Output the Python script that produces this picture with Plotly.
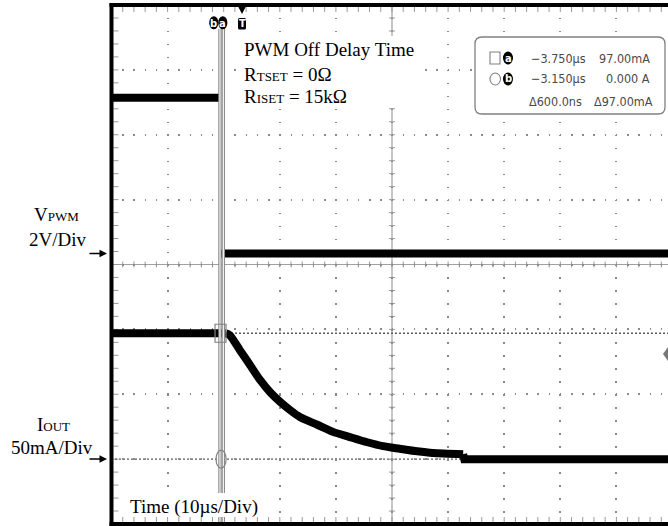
import plotly.graph_objects as go

# ---------------- data ----------------
# PWM input voltage (V) vs time (us), 0 us = trigger
pwm_time = [-23.2, -3.8, -3.8, 76.2]
pwm_volts = [4.8, 4.8, 0.0, 0.0]

# LED output current (mA) vs time (us)
iout_time = [-23.2, -2.7, -2.0, -0.2, 1.6, 3.4, 5.2, 7.0, 8.7, 10.5, 13.6,
             16.4, 19.4, 22.5, 25.3, 28.3, 31.4, 34.2, 39.6, 39.8, 76.2]
iout_mA = [97.0, 97.0, 95.5, 84.0, 72.5, 61.0, 51.5, 44.0, 38.0, 32.5, 26.5,
           21.0, 17.0, 13.0, 10.0, 8.0, 6.0, 4.7, 3.8, 0.0, 0.0]

# cursor readout
cursor_a_us = -3.75
cursor_b_us = -3.15
cursor_a_mA = 97.0
cursor_b_mA = 0.0
readout_rows = [["−3.750µs", "97.00mA"], ["−3.150µs", "0.000 A"], ["Δ600.0ns", "Δ97.00mA"]]

# ---------------- geometry ----------------
W, H = 668, 526
L, R, T, B = 111, 0, 5, 2
TRIG_PX = 241.0
PX_PER_US = 5.61
DIV_X = 56.1
DIV_Y = (H - T - B) / 8.0
X_CENTER_US = (392 - TRIG_PX) / PX_PER_US
T_LEFT = (L - TRIG_PX) / PX_PER_US
T_RIGHT = (W - R - TRIG_PX) / PX_PER_US
V_ZERO_PX = 253.5
v_lo = -((H - B) - V_ZERO_PX) / DIV_Y * 2.0
v_hi = v_lo + 16.0


def px(x):
    return (x - L) / (W - L - R)


def py(y):
    return ((H - B) - y) / (H - T - B)


def seg(x0, y0, x1, y1):
    return f"M{px(x0):.5f},{py(y0):.5f}L{px(x1):.5f},{py(y1):.5f}"


SERIF = "Liberation Serif, Times New Roman, serif"
NARROW = "Liberation Sans Narrow, DejaVu Sans Condensed, Arial Narrow, sans-serif"
GRID = "#8a8a8a"
TICK = "#9a9a9a"

fig = go.Figure()

fig.add_trace(go.Scatter(x=pwm_time[:2], y=pwm_volts[:2], yaxis="y2", mode="lines",
                         line=dict(color="black", width=8), hoverinfo="skip"))
fig.add_trace(go.Scatter(x=pwm_time[2:], y=pwm_volts[2:], yaxis="y2", mode="lines",
                         line=dict(color="black", width=8), hoverinfo="skip"))
# flat start and final step drawn straight, the decay drawn smooth
s0 = 2
s1 = iout_time.index(39.6) + 1
fig.add_trace(go.Scatter(x=iout_time[:s0], y=iout_mA[:s0], mode="lines",
                         line=dict(color="black", width=8), hoverinfo="skip"))
fig.add_trace(go.Scatter(x=iout_time[s0 - 1:s1], y=iout_mA[s0 - 1:s1], mode="lines",
                         line=dict(color="black", width=8, shape="spline", smoothing=0.7),
                         hoverinfo="skip"))
fig.add_trace(go.Scatter(x=iout_time[s1 - 1:], y=iout_mA[s1 - 1:], mode="lines",
                         line=dict(color="black", width=8), hoverinfo="skip"))

shapes = []
# centre graticule lines
shapes.append(dict(type="line", xref="paper", yref="paper", x0=0, x1=1, y0=py(264.5), y1=py(264.5),
                   line=dict(color="#a0a0a0", width=1.2), layer="between"))
shapes.append(dict(type="line", xref="x", yref="paper", x0=X_CENTER_US, x1=X_CENTER_US, y0=0, y1=1,
                   line=dict(color="#a0a0a0", width=1.2), layer="between"))
# ticks: borders and centre lines
p_border = []
p_center = []
for k in range(0, 51):
    x = L + 0.5 + k * DIV_X / 5
    p_border.append(seg(x, 7, x, 12))
    p_border.append(seg(x, 522, x, 517))
    p_center.append(seg(x, 261.5, x, 267.5))
for k in range(0, 41):
    y = T + k * DIV_Y / 5
    p_border.append(seg(113.5, y, 118.5, y))
    p_center.append(seg(389, y, 395, y))
shapes.append(dict(type="path", xref="paper", yref="paper", path="".join(p_border),
                   line=dict(color=TICK, width=1), layer="between"))
shapes.append(dict(type="path", xref="paper", yref="paper", path="".join(p_center),
                   line=dict(color=TICK, width=1), layer="between"))
# horizontal (level) cursor lines
for lvl in (cursor_a_mA, cursor_b_mA):
    shapes.append(dict(type="line", xref="paper", yref="y", x0=0, x1=1, y0=lvl, y1=lvl,
                       line=dict(color="#5a5a5a", width=1.4, dash="2px,2px"), layer="between"))
# vertical cursor lines (double lines)
for tc in (cursor_a_us, cursor_b_us):
    shapes.append(dict(type="line", xref="x", yref="paper", x0=tc, x1=tc, y0=0, y1=py(29),
                       line=dict(color="#8c8c8c", width=3.4), layer="above"))
    shapes.append(dict(type="line", xref="x", yref="paper", x0=tc, x1=tc, y0=0, y1=py(29),
                       line=dict(color="white", width=1.1), layer="above"))
# cursor markers on the waveform
mpp = 50.0 / DIV_Y  # mA per px
shapes.append(dict(type="rect", xref="x", yref="y",
                   x0=cursor_a_us + 0.1 - 5.5 / PX_PER_US, x1=cursor_a_us + 0.1 + 5.5 / PX_PER_US,
                   y0=cursor_a_mA - 9 * mpp, y1=cursor_a_mA + 9 * mpp,
                   line=dict(color="#808080", width=1.2), layer="above"))
shapes.append(dict(type="circle", xref="x", yref="y",
                   x0=cursor_a_us + 0.2 - 5 / PX_PER_US, x1=cursor_a_us + 0.2 + 5 / PX_PER_US,
                   y0=cursor_b_mA - 9 * mpp, y1=cursor_b_mA + 9 * mpp,
                   line=dict(color="#808080", width=1.2), layer="above"))


def rrect(x0, y0, x1, y1, r):
    P = lambda x, y: f"{px(x):.5f},{py(y):.5f}"
    return (f"M{P(x0 + r, y0)}L{P(x1 - r, y0)}Q{P(x1, y0)} {P(x1, y0 + r)}"
            f"L{P(x1, y1 - r)}Q{P(x1, y1)} {P(x1 - r, y1)}L{P(x0 + r, y1)}"
            f"Q{P(x0, y1)} {P(x0, y1 - r)}L{P(x0, y0 + r)}Q{P(x0, y0)} {P(x0 + r, y0)}Z")


# white label backgrounds
shapes.append(dict(type="rect", xref="paper", yref="paper", x0=px(238), x1=px(421), y0=py(108), y1=py(36),
                   fillcolor="white", line=dict(width=0), layer="above"))
shapes.append(dict(type="rect", xref="paper", yref="paper", x0=px(124), x1=px(264), y0=py(517), y1=py(493),
                   fillcolor="white", line=dict(width=0), layer="above"))
# readout box
shapes.append(dict(type="path", xref="paper", yref="paper", path=rrect(475, 37, 665, 114, 7),
                   fillcolor="white", line=dict(color="#808080", width=1.3), layer="above"))
shapes.append(dict(type="rect", xref="paper", yref="paper", x0=px(490), x1=px(500), y0=py(64), y1=py(52),
                   line=dict(color="#808080", width=1.1), layer="above"))
shapes.append(dict(type="circle", xref="paper", yref="paper", x0=px(490), x1=px(500.5), y0=py(85), y1=py(73),
                   line=dict(color="#808080", width=1.1), layer="above"))
row_y = [58, 79, 101]
for cy in row_y[:2]:
    shapes.append(dict(type="circle", xref="paper", yref="paper", x0=px(503), x1=px(513),
                       y0=py(cy + 6.5), y1=py(cy - 6.5), fillcolor="black", line=dict(width=0), layer="above"))
# top markers b, a, T
for cx in (213.8, 222.8):
    shapes.append(dict(type="circle", xref="paper", yref="paper", x0=px(cx - 4.6), x1=px(cx + 4.6),
                       y0=py(29.3), y1=py(16.2), fillcolor="black", line=dict(width=0), layer="above"))
shapes.append(dict(type="path", xref="paper", yref="paper", path=rrect(238, 18, 246, 29.5, 1.5),
                   fillcolor="black", line=dict(width=0), layer="above"))
shapes.append(dict(type="path", xref="paper", yref="paper",
                   path=f"M{px(236.8)},{py(4)}L{px(247.2)},{py(4)}L{px(242)},{py(14)}Z",
                   fillcolor="black", line=dict(width=0), layer="above"))
# trigger-level marker at right edge
shapes.append(dict(type="path", xref="paper", yref="paper",
                   path=f"M{px(668)},{py(347)}L{px(673)},{py(354)}L{px(668)},{py(361)}L{px(663)},{py(354)}Z",
                   fillcolor="#777777", line=dict(width=0), layer="above"))
# screen border
shapes.append(dict(type="line", xref="paper", yref="paper", x0=px(111.5), x1=px(111.5), y0=py(526), y1=py(3),
                   line=dict(color="black", width=4), layer="above"))
shapes.append(dict(type="line", xref="paper", yref="paper", x0=px(109.5), x1=px(668), y0=py(5), y1=py(5),
                   line=dict(color="black", width=4), layer="above"))
shapes.append(dict(type="line", xref="paper", yref="paper", x0=px(109.5), x1=px(668), y0=py(524), y1=py(524),
                   line=dict(color="black", width=4), layer="above"))

ann = []


def text(s, x, baseline, size=19, anchor="left", font=SERIF, color="black"):
    ann.append(dict(text=s, x=px(x), y=py(baseline + 0.216 * size + 1), xref="paper", yref="paper",
                    xanchor=anchor, yanchor="bottom", showarrow=False,
                    font=dict(family=font, size=size, color=color)))


SM = "<span style='font-size:13px'>%s</span>"
text("PWM Off Delay Time", 242, 57)
text("R" + SM % "TSET" + " = 0Ω", 242, 82)
text("R" + SM % "ISET" + " = 15kΩ", 242, 104)
text("V" + SM % "PWM", 56, 222, anchor="center")
text("2V/Div", 57.5, 247, anchor="center")
text("I" + SM % "OUT", 53, 432, anchor="center")
text("50mA/Div", 51.5, 455, anchor="center")
text("Time (10µs/Div)", 128, 515)

for ya in (V_ZERO_PX, 459.1):
    ann.append(dict(text="", x=px(107), y=py(ya), xref="paper", yref="paper", showarrow=True,
                    ax=-19, ay=0, arrowhead=2, arrowsize=1, arrowwidth=1.5, arrowcolor="black", standoff=0))

# readout texts
RO_SIZE = 12.5
for i, (left, right) in enumerate(readout_rows):
    cy = row_y[i]
    ann.append(dict(text=left, x=px(529 if i < 2 else 527), y=py(cy), xref="paper", yref="paper",
                    xanchor="left", yanchor="middle", showarrow=False,
                    font=dict(family=NARROW, size=RO_SIZE, color="#4a4a4a")))
    ann.append(dict(text=right, x=px(652 if i < 2 else 655), y=py(cy), xref="paper", yref="paper",
                    xanchor="right", yanchor="middle", showarrow=False,
                    font=dict(family=NARROW, size=RO_SIZE, color="#4a4a4a")))
for lab, cy in (("a", row_y[0]), ("b", row_y[1])):
    ann.append(dict(text="<b>%s</b>" % lab, x=px(508), y=py(cy), xref="paper", yref="paper",
                    xanchor="center", yanchor="middle", showarrow=False,
                    font=dict(family="DejaVu Sans", size=10, color="white")))
for lab, cx in (("b", 213.8), ("a", 222.8), ("T", 242)):
    ann.append(dict(text="<b>%s</b>" % lab, x=px(cx), y=py(23.2), xref="paper", yref="paper",
                    xanchor="center", yanchor="middle", showarrow=False,
                    font=dict(family="DejaVu Sans", size=10, color="white")))

fig.update_layout(
    width=W, height=H,
    margin=dict(l=L, r=R, t=T, b=B, pad=0),
    plot_bgcolor="white", paper_bgcolor="white", showlegend=False,
    xaxis=dict(range=[T_LEFT, T_RIGHT], tick0=X_CENTER_US, dtick=10, showgrid=True,
               gridcolor=GRID, gridwidth=1.5, griddash="1.5px,%.3fpx" % (DIV_Y / 5 - 1.5),
               zeroline=False, showticklabels=False, ticks="", showline=False),
    yaxis=dict(range=[-50, 350], tick0=0, dtick=50, showgrid=True,
               gridcolor=GRID, gridwidth=1.5, griddash="1.5px,%.3fpx" % (DIV_X / 5 - 1.5),
               zeroline=False, showticklabels=False, ticks="", showline=False),
    yaxis2=dict(range=[v_lo, v_hi], overlaying="y", visible=False),
    shapes=shapes, annotations=ann,
)

fig.write_html("out.html", config={"displayModeBar": False},
               post_script="document.body.style.margin='0px';document.body.style.overflow='hidden';")
